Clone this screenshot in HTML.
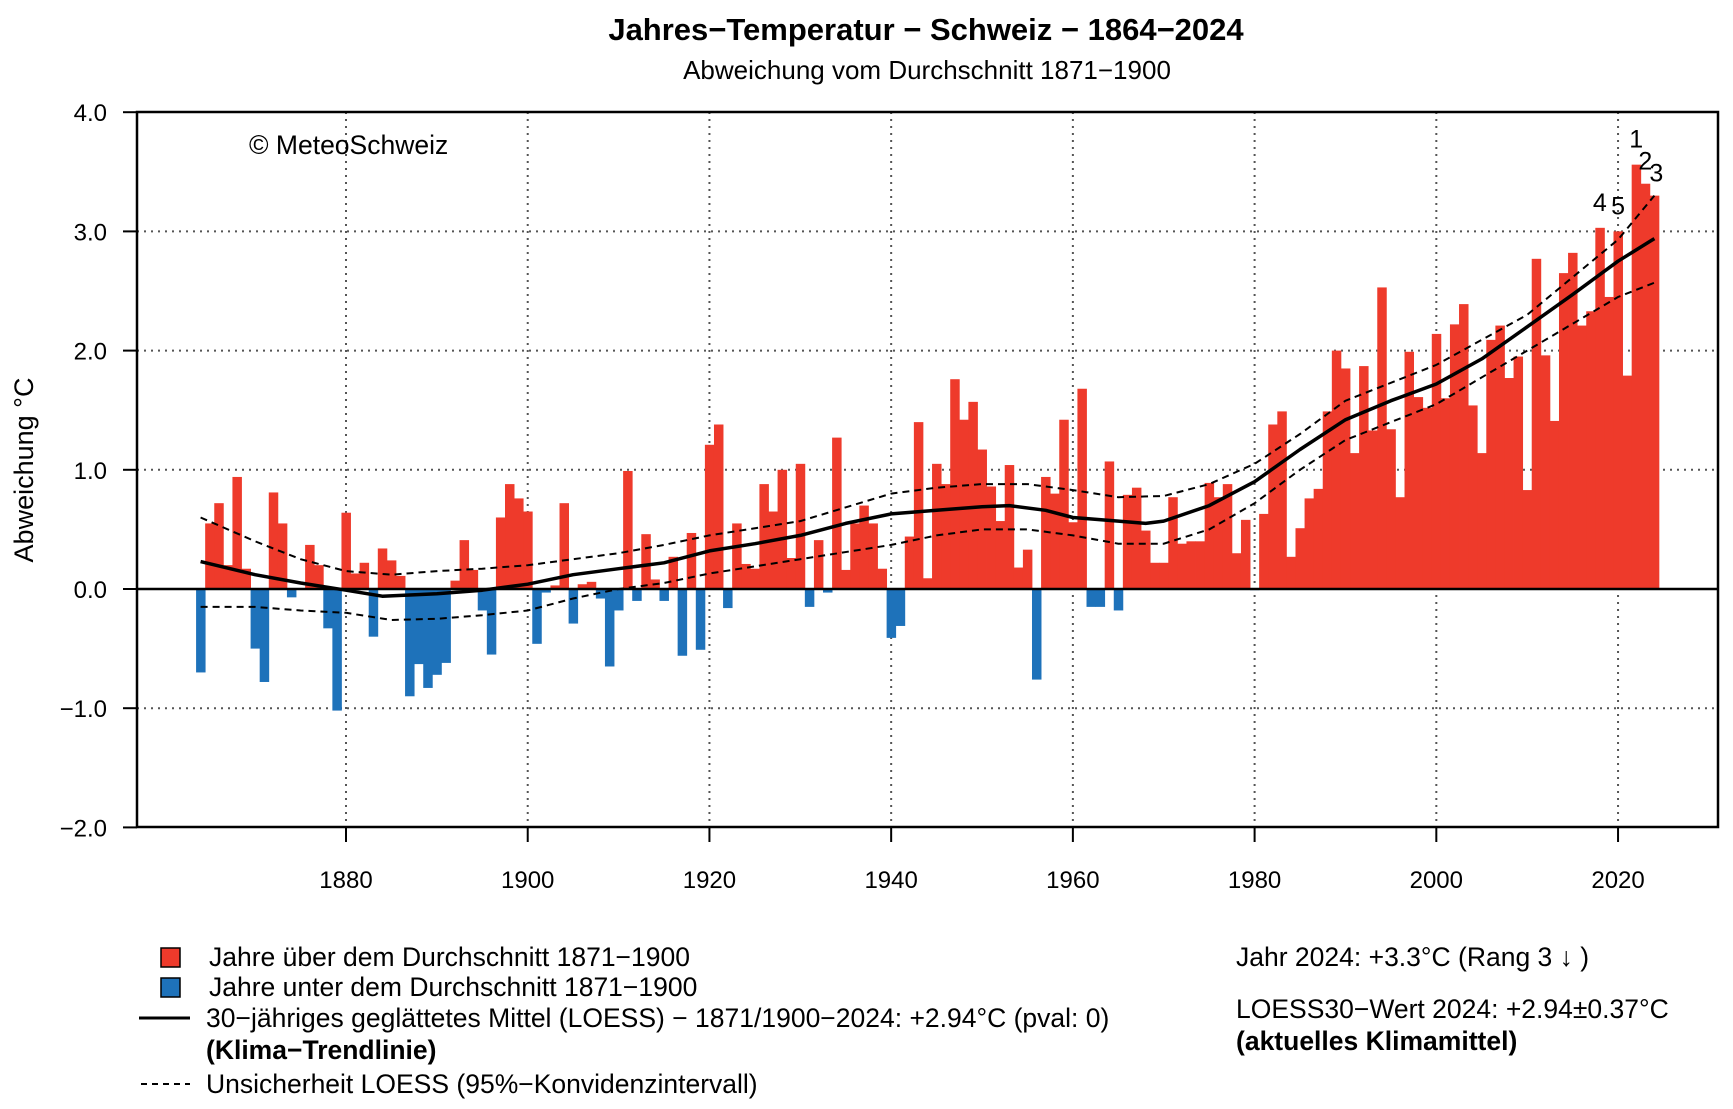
<!DOCTYPE html>
<html><head><meta charset="utf-8"><style>
html,body{margin:0;padding:0;background:#fff;}
svg{display:block;font-family:"Liberation Sans",Arial,sans-serif;}
</style></head><body>
<svg id="chart" width="1733" height="1109" viewBox="0 0 1733 1109">
<text x="926" y="40" text-anchor="middle" font-size="31" font-weight="bold">Jahres−Temperatur − Schweiz − 1864−2024</text>
<text x="927" y="79" text-anchor="middle" font-size="26">Abweichung vom Durchschnitt 1871−1900</text>
<g id="grid"></g>
<g id="bars"></g>
<g id="lines"></g>
<g id="axes"></g>
<text x="249" y="154" font-size="26.5">© MeteoSchweiz</text>
<text transform="translate(33,470) rotate(-90)" text-anchor="middle" font-size="27">Abweichung °C</text>
<g font-size="26.5">
<rect x="161" y="948" width="19" height="19" fill="#ee3a2b" stroke="#000" stroke-width="1.5"/>
<text x="209" y="966">Jahre über dem Durchschnitt 1871−1900</text>
<rect x="161" y="978" width="19" height="19" fill="#1e72ba" stroke="#000" stroke-width="1.5"/>
<text x="209" y="996">Jahre unter dem Durchschnitt 1871−1900</text>
<line x1="139" y1="1018" x2="190" y2="1018" stroke="#000" stroke-width="3"/>
<text x="206" y="1027">30−jähriges geglättetes Mittel (LOESS) − 1871/1900−2024: +2.94°C (pval: 0)</text>
<text x="206" y="1059" font-weight="bold">(Klima−Trendlinie)</text>
<line x1="141" y1="1084" x2="190" y2="1084" stroke="#000" stroke-width="2" stroke-dasharray="6,5"/>
<text x="206" y="1093">Unsicherheit LOESS (95%−Konvidenzintervall)</text>
<text x="1236" y="966">Jahr 2024: +3.3°C (Rang 3 ↓ )</text>
<text x="1236" y="1018">LOESS30−Wert 2024: +2.94±0.37°C</text>
<text x="1236" y="1050" font-weight="bold">(aktuelles Klimamittel)</text>
</g>
</svg>
<script>
const startYear = 1864;
const values = [
-0.70,0.55,0.72,0.20,0.94,0.17,-0.50,-0.78,0.81,0.55,-0.07,0.00,0.37,0.20,-0.33,-1.02,
0.64,0.13,0.22,-0.40,0.34,0.24,0.11,-0.90,-0.63,-0.83,-0.72,-0.62,0.07,0.41,0.16,-0.18,-0.55,0.60,0.88,0.76,
0.65,-0.46,-0.03,0.03,0.72,-0.29,0.04,0.06,-0.08,-0.65,-0.18,0.99,-0.10,0.46,0.08,-0.10,0.27,-0.56,0.47,-0.51,
1.21,1.38,-0.16,0.55,0.21,0.17,0.88,0.65,1.00,0.26,1.05,-0.15,0.41,-0.03,1.27,0.16,0.55,0.70,0.55,0.17,
-0.41,-0.31,0.44,1.40,0.09,1.05,0.88,1.76,1.42,1.57,1.17,0.86,0.57,1.04,0.18,0.33,-0.76,0.94,0.80,1.42,
0.56,1.68,-0.15,-0.15,1.07,-0.18,0.79,0.85,0.49,0.22,0.22,0.77,0.38,0.40,0.40,0.89,0.77,0.88,0.30,0.58,
-0.01,0.63,1.38,1.49,0.27,0.51,0.76,0.84,1.49,2.00,1.85,1.14,1.87,1.33,2.53,1.34,0.77,1.99,1.61,1.52,
2.14,1.60,2.22,2.39,1.54,1.14,2.09,2.21,1.77,1.95,0.83,2.77,1.96,1.41,2.65,2.82,2.21,2.33,3.03,2.45,
3.00,1.79,3.56,3.40,3.30];
const loessYears = [1864,1870,1875,1880,1884,1890,1895,1900,1905,1910,1915,1920,1925,1930,1935,1940,1945,1950,1953,1957,1960,1965,1968,1970,1975,1980,1985,1990,1995,2000,2005,2010,2015,2020,2024];
const loessMean  = [0.23,0.12,0.05,-0.01,-0.06,-0.04,-0.01,0.04,0.12,0.17,0.22,0.32,0.38,0.45,0.55,0.63,0.66,0.69,0.70,0.66,0.60,0.57,0.55,0.57,0.70,0.90,1.17,1.42,1.58,1.72,1.93,2.20,2.47,2.75,2.94];
const bandYears = [1864,1870,1875,1880,1885,1890,1895,1900,1905,1910,1915,1920,1930,1940,1945,1950,1955,1960,1965,1970,1975,1980,1985,1990,2000,2010,2020,2024];
const bandUpper = [0.60,0.40,0.25,0.15,0.12,0.15,0.17,0.20,0.25,0.30,0.37,0.45,0.57,0.80,0.85,0.88,0.88,0.83,0.77,0.78,0.88,1.05,1.30,1.58,1.88,2.30,2.93,3.30];
const bandLower = [-0.15,-0.15,-0.18,-0.20,-0.26,-0.25,-0.22,-0.18,-0.08,0.00,0.05,0.13,0.25,0.37,0.45,0.50,0.50,0.45,0.38,0.38,0.50,0.72,1.00,1.25,1.55,2.00,2.45,2.57];
const yTicks = [-2,-1,0,1,2,3,4];
const yTickLabels = ["−2.0","−1.0","0.0","1.0","2.0","3.0","4.0"];
const xTicks = [1880,1900,1920,1940,1960,1980,2000,2020];
const rankYears = [2022,2023,2024,2018,2020];
const rankLabels = ["1","2","3","4","5"];

const NS="http://www.w3.org/2000/svg";
const L=137,R=1718,T=112,B=827;
const xS=yr=>346+(yr-1880)*9.086;
const yS=v=>589-v*119.2;
function mk(tag,attrs,parent){const e=document.createElementNS(NS,tag);for(const k in attrs)e.setAttribute(k,attrs[k]);parent.appendChild(e);return e;}
const grid=document.getElementById('grid'),bars=document.getElementById('bars'),lines=document.getElementById('lines'),axes=document.getElementById('axes');
yTicks.forEach((v,i)=>{
  if(v!==-2&&v!==4&&v!==0){const g=mk('line',{x1:L,x2:R,y1:yS(v),y2:yS(v),stroke:'#555','stroke-width':2,'stroke-dasharray':'2,5'},grid);
  
  }
  const t=mk('line',{x1:L-14,x2:L,y1:yS(v),y2:yS(v),stroke:'#000','stroke-width':2},axes);
  
  
  const lb=mk('text',{x:107,y:yS(v)+9,'text-anchor':'end','font-size':24},axes);lb.textContent=yTickLabels[i];
  
  
});
xTicks.forEach(yr=>{
  const g=mk('line',{x1:xS(yr),x2:xS(yr),y1:T,y2:B,stroke:'#555','stroke-width':2,'stroke-dasharray':'2,5'},grid);
  
  
  const t=mk('line',{x1:xS(yr),x2:xS(yr),y1:B,y2:B+15,stroke:'#000','stroke-width':2},axes);
  
  
  const lb=mk('text',{x:xS(yr),y:888,'text-anchor':'middle','font-size':24},axes);lb.textContent=yr;
  
  
});
const bw=9.086;
values.forEach((v,i)=>{
  const yr=startYear+i,x=xS(yr)-bw/2;
  const y0=yS(0),y1=yS(v);
  const r=mk('rect',{x:x,y:Math.min(y0,y1),width:bw+0.4,height:Math.abs(y1-y0),fill:v>=0?'#ee3a2b':'#1e72ba'},bars);
  
  
});
const pts=(xs,ys)=>xs.map((yr,i)=>xS(yr).toFixed(1)+','+yS(ys[i]).toFixed(1)).join(' ');
const up=mk('polyline',{points:pts(bandYears,bandUpper),fill:'none',stroke:'#000','stroke-width':2,'stroke-dasharray':'7,5'},lines);


const lo=mk('polyline',{points:pts(bandYears,bandLower),fill:'none',stroke:'#000','stroke-width':2,'stroke-dasharray':'7,5'},lines);


const mn=mk('polyline',{points:pts(loessYears,loessMean),fill:'none',stroke:'#000','stroke-width':3.5,'stroke-linejoin':'round'},lines);


const zl=mk('line',{x1:L,x2:R,y1:yS(0),y2:yS(0),stroke:'#000','stroke-width':2.5},axes);


const box=mk('rect',{x:L,y:T,width:R-L,height:B-T,fill:'none',stroke:'#000','stroke-width':2.5},axes);


rankYears.forEach((yr,i)=>{
  const v=values[yr-startYear];
  const dx=[0,0,2,0,0][i];
  const dy=[-11,-8,-8,-11,-11][i];
  const t=mk('text',{x:xS(yr)+dx,y:yS(v)-6+dy,'text-anchor':'middle','font-size':25},axes);
  t.textContent=rankLabels[i];
  
  
});
</script>
</body></html>
